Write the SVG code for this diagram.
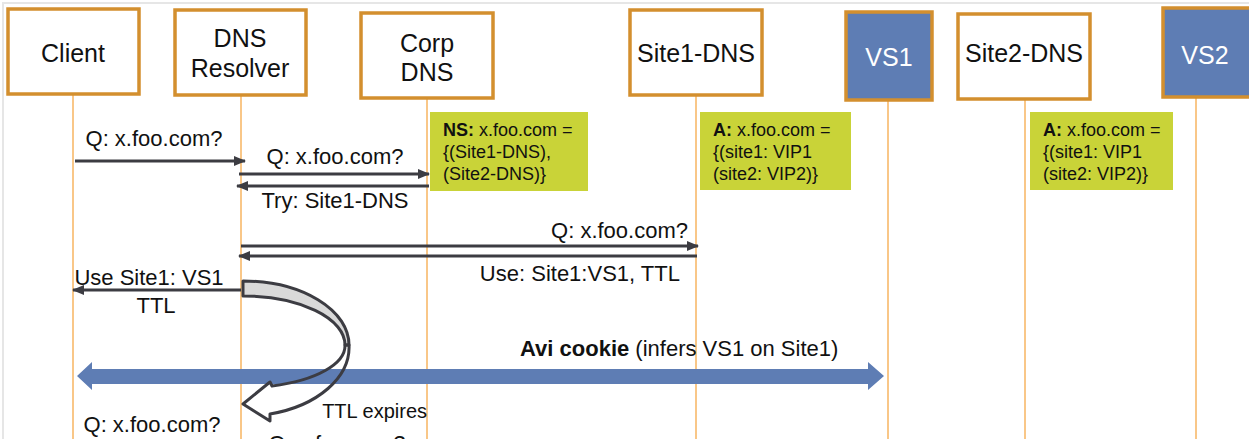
<svg xmlns="http://www.w3.org/2000/svg" width="1249" height="439" viewBox="0 0 1249 439">
<defs>
<style>
.node{fill:#fff;stroke:#D38F2E;stroke-width:3.5}
.vs{fill:#5E7DB4;stroke:#D38F2E;stroke-width:3.5}
.nt{font-family:"Liberation Sans",Arial,sans-serif;font-size:25px;fill:#111;text-anchor:middle}
.vt{font-family:"Liberation Sans",Arial,sans-serif;font-size:25px;fill:#fff;text-anchor:middle}
.life{stroke:#F7B461;stroke-width:1.5;fill:none}
.msg{stroke:#3C3C42;stroke-width:3;fill:none}
.lbl{font-family:"Liberation Sans",Arial,sans-serif;font-size:22px;fill:#111}
.note{fill:#C9D338}
.nt2{font-family:"Liberation Sans",Arial,sans-serif;font-size:18px;fill:#111}
</style>
<marker id="ah" viewBox="0 0 12 10" refX="11" refY="5" markerWidth="12" markerHeight="10" markerUnits="userSpaceOnUse" orient="auto">
<path d="M0,0 L12,5 L0,10 z" fill="#3C3C42"/>
</marker>
</defs>
<rect width="1249" height="439" fill="#fff"/>
<path d="M3,439 V3 H1249" stroke="#E6E6E6" stroke-width="2" fill="none"/>

<g id="lifelines">
<line class="life" x1="73" y1="94" x2="73" y2="439"/>
<line class="life" x1="241" y1="95" x2="241" y2="439"/>
<line class="life" x1="427" y1="98" x2="427" y2="439"/>
<line class="life" x1="696" y1="95" x2="696" y2="439"/>
<line class="life" x1="888" y1="100" x2="888" y2="439"/>
<line class="life" x1="1025" y1="99" x2="1025" y2="439"/>
<line class="life" x1="1196" y1="97" x2="1196" y2="439"/>
</g>

<g id="client"><rect class="node" x="8" y="9" width="131" height="85"/><text class="nt" x="73" y="62">Client</text></g>
<g id="resolver"><rect class="node" x="175" y="10" width="131" height="85"/><text class="nt" x="240" y="47">DNS</text><text class="nt" x="240" y="77">Resolver</text></g>
<g id="corpdns"><rect class="node" x="361" y="13" width="132" height="85"/><text class="nt" x="427" y="52">Corp</text><text class="nt" x="427" y="81">DNS</text></g>
<g id="site1dns"><rect class="node" x="630" y="10" width="132" height="85"/><text class="nt" x="696" y="62">Site1-DNS</text></g>
<g id="vs1"><rect class="vs" x="846" y="12" width="86" height="88"/><text class="vt" x="889" y="66">VS1</text></g>
<g id="site2dns"><rect class="node" x="958" y="14" width="132" height="85"/><text class="nt" x="1024" y="62">Site2-DNS</text></g>
<g id="vs2"><rect class="vs" x="1163" y="8" width="90" height="89"/><text class="vt" x="1205" y="64">VS2</text></g>

<g id="note-ns"><rect class="note" x="430" y="112" width="158" height="79"/>
<text class="nt2" x="443" y="136"><tspan font-weight="bold">NS:</tspan> x.foo.com =</text>
<text class="nt2" x="443" y="158">{(Site1-DNS),</text>
<text class="nt2" x="443" y="180">(Site2-DNS)}</text></g>
<g id="note-a1"><rect class="note" x="700" y="112" width="151" height="78"/>
<text class="nt2" x="713" y="136"><tspan font-weight="bold">A:</tspan> x.foo.com =</text>
<text class="nt2" x="713" y="158">{(site1: VIP1</text>
<text class="nt2" x="713" y="180">(site2: VIP2)}</text></g>
<g id="note-a2"><rect class="note" x="1030" y="112" width="143" height="78"/>
<text class="nt2" x="1043" y="136"><tspan font-weight="bold">A:</tspan> x.foo.com =</text>
<text class="nt2" x="1043" y="158">{(site1: VIP1</text>
<text class="nt2" x="1043" y="180">(site2: VIP2)}</text></g>

<g id="cookie">
<path d="M77,376 L92,362 L92,369 L868,369 L868,362 L884,376 L868,390 L868,384 L92,384 L92,390 Z" fill="#5E7DB4"/>
<text class="lbl" x="520" y="356"><tspan font-weight="bold">Avi cookie</tspan> (infers VS1 on Site1)</text>
</g>

<g id="connectors">
<line class="msg" x1="75" y1="161" x2="245" y2="161" marker-end="url(#ah)"/>
<text class="lbl" x="154" y="146" text-anchor="middle">Q: x.foo.com?</text>
<line class="msg" x1="239" y1="174" x2="429" y2="174" marker-end="url(#ah)"/>
<text class="lbl" x="335" y="164" text-anchor="middle">Q: x.foo.com?</text>
<line class="msg" x1="429" y1="186" x2="237" y2="186" marker-end="url(#ah)"/>
<text class="lbl" x="335" y="208" text-anchor="middle">Try: Site1-DNS</text>
<line class="msg" x1="241" y1="246" x2="698" y2="246" marker-end="url(#ah)"/>
<text class="lbl" x="688" y="238" text-anchor="end">Q: x.foo.com?</text>
<line class="msg" x1="697" y1="256" x2="239" y2="256" marker-end="url(#ah)"/>
<text class="lbl" x="680" y="281" text-anchor="end">Use: Site1:VS1, TTL</text>
<line class="msg" x1="241" y1="290" x2="73" y2="290" marker-end="url(#ah)"/>
<text class="lbl" x="149" y="285" text-anchor="middle">Use Site1: VS1</text>
<text class="lbl" x="156" y="313" text-anchor="middle">TTL</text>
</g>

<g id="ttl-curve" stroke="#3C3C42" stroke-width="3" stroke-linejoin="round">
<path d="M243,281 A106,64 0 0 1 349,345 L345,345 A102,49 0 0 0 243,296 Z" fill="#D9D9D9"/>
<path d="M349,345 L345,345 A102,42 0 0 1 272,386 L270,382 L243,404 L270,421 L270,414 A106,69 0 0 0 349,345 Z" fill="none"/>
<text class="lbl" x="427" y="418" text-anchor="end" stroke="none" fill="#111" style="font-size:20px">TTL expires</text>
</g>

<g id="bottom-labels">
<text class="lbl" x="152" y="432" text-anchor="middle">Q: x.foo.com?</text>
<text class="lbl" x="337" y="451" text-anchor="middle">Q: x.foo.com?</text>
</g>
</svg>
